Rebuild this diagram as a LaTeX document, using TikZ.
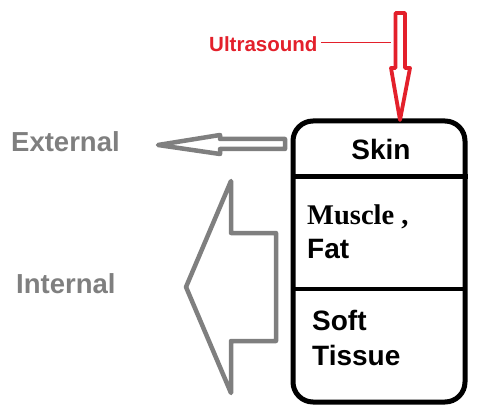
\documentclass[tikz,border=0pt]{standalone}
\usepackage{fontspec}
\setmainfont{Liberation Sans}
\newfontfamily\serifbf{Liberation Serif}
\definecolor{arrgray}{HTML}{7F7F7F}
\definecolor{usred}{HTML}{E3202B}
\begin{document}
\begin{tikzpicture}[x=1pt,y=-1pt,
  graytxt/.style={text=arrgray,font=\fontsize{27.5}{32}\selectfont\bfseries,inner sep=0pt},
  blktxt/.style={text=black,font=\fontsize{28}{32}\selectfont\bfseries,inner sep=0pt},
  grayarrow/.style={draw=arrgray,line width=4.5pt,line join=round},
  redarrow/.style={draw=usred,line width=3.8pt,line join=round},
  boxline/.style={draw=black,line width=5pt}]
\useasboundingbox (0,0) rectangle (487,414);
% box
\draw[boxline,rounded corners=20pt] (293,121) rectangle (465,402);
\coordinate (d1l) at (293,177);
\coordinate (d1r) at (468,177);
\coordinate (d2l) at (293,289);
\coordinate (d2r) at (465,289);
\draw[boxline] (d1l) -- (d1r);
\draw[boxline,line width=4.5pt] (d2l) -- (d2r);
% texts in box
\node[blktxt,anchor=base] (skin) at (381,160) {Skin};
\node[blktxt,anchor=base west,font=\serifbf\fontsize{28.5}{32}\selectfont\bfseries] (muscle) at (307,225) {Muscle ,};
\node[blktxt,anchor=base west] (fat) at (307,258) {Fat};
\node[blktxt,anchor=base west] (soft) at (312,330) {Soft};
\node[blktxt,anchor=base west] (tissue) at (312,365) {Tissue};
% ultrasound
\node[text=usred,font=\fontsize{20.5}{24}\selectfont\bfseries,inner sep=0pt,anchor=base west] (us) at (209,52) {Ultrasound};
\coordinate (usl) at (321,43);
\coordinate (usr) at (391,43);
\draw[usred,line width=1pt] (usl) -- (usr);
\draw[redarrow] (395.5,13) -- (405,13) -- (405,68) -- (410,68) -- (400,120) -- (391,68) -- (395.5,68) -- cycle;
% external arrow
\node[graytxt,anchor=base west] (ext) at (11,152) {External};
\draw[grayarrow] (285,139) -- (220,139) -- (220,135) -- (158,145) -- (220,154) -- (220,149) -- (285,149) -- cycle;
% internal arrow
\node[graytxt,anchor=base west] (int) at (16,293) {Internal};
\draw[grayarrow] (186,287) -- (231,181) -- (231,233) -- (276,233) -- (276,341) -- (231,341) -- (231,393) -- cycle;
\end{tikzpicture}
\end{document}
